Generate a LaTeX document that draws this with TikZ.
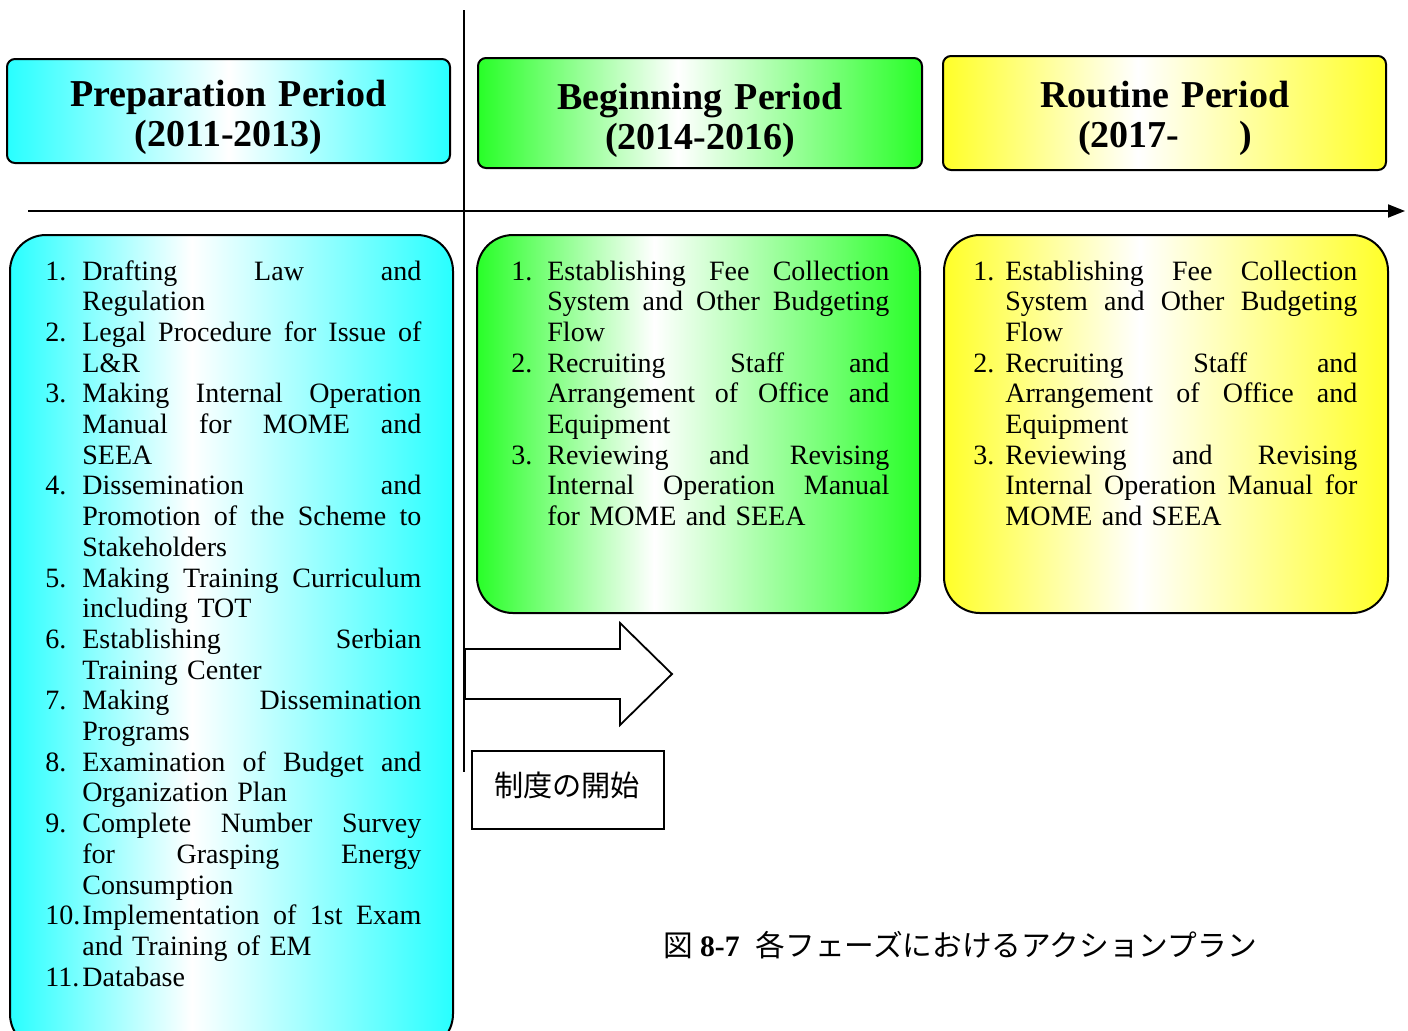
\documentclass[tikz,border=0pt]{standalone}
\usepackage{fontspec}
\setmainfont{Liberation Serif}
\newfontfamily\cjk{Noto Sans CJK JP}
\usetikzlibrary{arrows.meta}

\definecolor{cy}{RGB}{40,255,255}
\definecolor{gr}{RGB}{40,255,40}
\definecolor{ye}{RGB}{255,255,40}

\pgfdeclarehorizontalshading{cyH}{100bp}{color(0bp)=(cy); color(25bp)=(cy); color(50bp)=(white); color(75bp)=(cy); color(100bp)=(cy)}
\pgfdeclarehorizontalshading{grH}{100bp}{color(0bp)=(gr); color(25bp)=(gr); color(47.5bp)=(white); color(75bp)=(gr); color(100bp)=(gr)}
\pgfdeclarehorizontalshading{yeH}{100bp}{color(0bp)=(ye); color(25bp)=(ye); color(47bp)=(white); color(75bp)=(ye); color(100bp)=(ye)}
\pgfdeclarehorizontalshading{cyC}{100bp}{color(0bp)=(cy); color(25bp)=(cy); color(45.5bp)=(white); color(75bp)=(cy); color(100bp)=(cy)}
\pgfdeclarehorizontalshading{grC}{100bp}{color(0bp)=(gr); color(25bp)=(gr); color(45bp)=(white); color(75bp)=(gr); color(100bp)=(gr)}
\pgfdeclarehorizontalshading{yeC}{100bp}{color(0bp)=(ye); color(25bp)=(ye); color(47bp)=(white); color(75bp)=(ye); color(100bp)=(ye)}

\newlength\hw
\newlength\jw
% justified line: words spread evenly over the column width
\newcommand\J[1]{\hbox to \jw{\spaceskip=0pt plus 1fil\relax #1}}
% forced line break inside a paragraph
\newcommand\nl{\unskip\nobreak\hfil\break}
% list item with hanging number
\newcommand\itm[2]{\noindent\hangindent=\hw\hangafter=1\relax\hbox to \hw{#1\hfil}#2\par}

\tikzset{
  hdrbox/.style={draw=black, line width=1pt, rounded corners=4pt, inner sep=0pt},
  cbox/.style={draw=black, line width=1pt, rounded corners=18pt, inner sep=0pt},
  htext/.style={font=\fontsize{19pt}{20pt}\selectfont\bfseries, text width=220pt, align=center, inner sep=0pt, anchor=base},
  ltext/.style={font=\fontsize{14pt}{15.35pt}\selectfont, inner sep=0pt, anchor=base west},
  thin line/.style={line width=1pt, draw=black},
}

\begin{document}
\begin{tikzpicture}[x=0.5pt, y=-0.5pt]
\clip (0,0) rectangle (1408,1030);
\fill[white] (0,0) rectangle (1408,1030);

% axes
\coordinate (vA) at (464,10);
\coordinate (vB) at (464,772);
\draw[thin line] (vA) -- (vB);
\coordinate (tlA) at (28,211);
\coordinate (tlB) at (1405,211);
\draw[thin line, -{Triangle[length=8.5pt,width=6.5pt]}] (tlA) -- (tlB);

% header boxes
\node[hdrbox, shading=cyH, minimum width=221.5pt, minimum height=52pt] (prepH) at (228.5,111) {};
\node[hdrbox, shading=grH, minimum width=222pt, minimum height=55pt] (begH) at (700,113) {};
\node[hdrbox, shading=yeH, minimum width=221.5pt, minimum height=57pt] (rouH) at (1164.5,113) {};

\node[htext] (prepT) at (228.5,106) {Preparation Period\\(2011-2013)};
\node[htext] (begT) at (700,109) {Beginning Period\\(2014-2016)};
\node[htext] (rouT) at (1165,107) {Routine Period\\(2017-\hspace{30pt})};

% content boxes
\node[cbox, shading=cyC, minimum width=221.5pt, minimum height=407.5pt] (prepC) at (231.5,642.5) {};
\node[cbox, shading=grC, minimum width=221.5pt, minimum height=189pt] (begC) at (698.5,424) {};
\node[cbox, shading=yeC, minimum width=222pt, minimum height=189pt] (rouC) at (1166,424) {};

\node[ltext, text width=188pt] (prepL) at (45,280) {\setlength\hw{18.5pt}\setlength\jw{169.5pt}%
\itm{1.}{\J{Drafting Law and}\nl Regulation}
\itm{2.}{\J{Legal Procedure for Issue of}\nl L\&R}
\itm{3.}{\J{Making Internal Operation}\nl\J{Manual for MOME and}\nl SEEA}
\itm{4.}{\J{Dissemination and}\nl\J{Promotion of the Scheme to}\nl Stakeholders}
\itm{5.}{\J{Making Training Curriculum}\nl including TOT}
\itm{6.}{\J{Establishing Serbian}\nl Training Center}
\itm{7.}{\J{Making Dissemination}\nl Programs}
\itm{8.}{\J{Examination of Budget and}\nl Organization Plan}
\itm{9.}{\J{Complete Number Survey}\nl\J{for Grasping Energy}\nl Consumption}
\itm{10.}{\J{Implementation of 1st Exam}\nl and Training of EM}
\itm{11.}{Database}};

\node[ltext, text width=189pt] (begL) at (511,280) {\setlength\hw{18pt}\setlength\jw{171pt}%
\itm{1.}{\J{Establishing Fee Collection}\nl\J{System and Other Budgeting}\nl Flow}
\itm{2.}{\J{Recruiting Staff and}\nl\J{Arrangement of Office and}\nl Equipment}
\itm{3.}{\J{Reviewing and Revising}\nl\J{Internal Operation Manual}\nl for MOME and SEEA}};

\node[ltext, text width=192pt] (rouL) at (973,280) {\setlength\hw{16pt}\setlength\jw{176pt}%
\itm{1.}{\J{Establishing Fee Collection}\nl\J{System and Other Budgeting}\nl Flow}
\itm{2.}{\J{Recruiting Staff and}\nl\J{Arrangement of Office and}\nl Equipment}
\itm{3.}{\J{Reviewing and Revising}\nl\J{Internal Operation Manual for}\nl MOME and SEEA}};

% big start arrow
\draw[line width=0.9pt, fill=white] (465,649) -- (620,649) -- (620,623) -- (672,674) -- (620,725) -- (620,699) -- (465,699) -- cycle;

% start box
\node[draw=black, line width=1pt, minimum width=96pt, minimum height=39pt, inner sep=0pt] (startB) at (568,790) {};
\node[inner sep=0pt, font=\cjk\fontsize{14.6pt}{18pt}\selectfont] (startT) at (567,785) {制度の開始};

% caption
\node[inner sep=0pt, anchor=west, font=\fontsize{14.85pt}{18pt}\selectfont] (cap) at (663,945)
  {{\cjk 図}\hspace{3.5pt}\textbf{8-7}\hspace{8pt}{\cjk 各フェーズにおけるアクションプラン}};
\end{tikzpicture}
\end{document}
